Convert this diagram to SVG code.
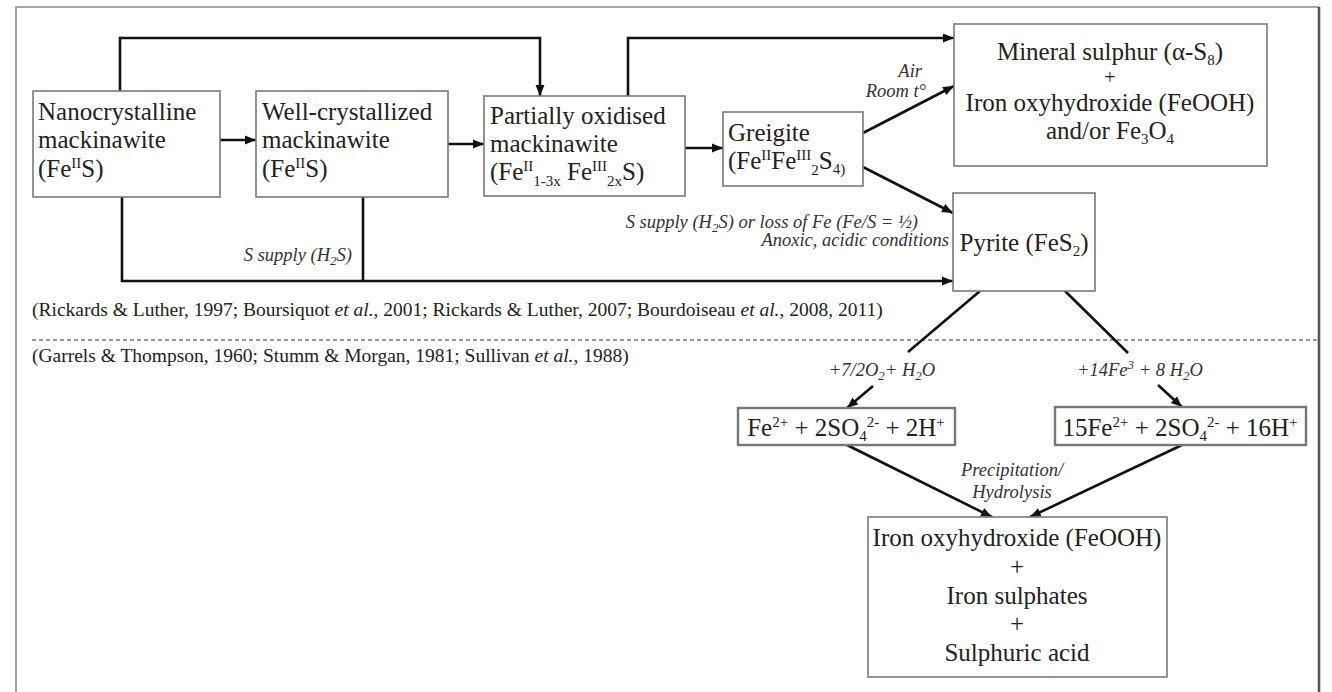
<svg xmlns="http://www.w3.org/2000/svg" width="1332" height="692" viewBox="0 0 1332 692">
  <style>
    .box { fill: #fff; stroke: #7a7a7a; stroke-width: 1.6; }
    .eq { fill: #fff; stroke: #777; stroke-width: 2.4; }
    .t { font-family: "Liberation Serif", "Times New Roman", serif; font-size: 25px; fill: #222; }
    .plus { font-size: 20px; }
    .lab { font-family: "Liberation Serif", "Times New Roman", serif; font-size: 18.5px; font-style: italic; fill: #333; }
    .ref { font-family: "Liberation Serif", "Times New Roman", serif; font-size: 19.5px; fill: #222; }
    .s { font-size: 15px; }
    .ls { font-size: 13px; }
    .it { font-style: italic; }
    .mid { text-anchor: middle; }
    .end { text-anchor: end; }
    .conn { stroke: #111; stroke-width: 2.6; fill: none; }
  </style>
  <defs>
    <marker id="arrow" markerUnits="userSpaceOnUse" markerWidth="12" markerHeight="10" refX="11" refY="5" orient="auto">
      <path d="M0,0.5 L11,5 L0,9.5 z" fill="#111"/>
    </marker>
  </defs>

  <rect width="1332" height="692" fill="#fff"/>

  <!-- outer frame and section divider -->
  <g id="frame">
    <path d="M16,692 V7 H1319" fill="none" stroke="#8a8a8a" stroke-width="1.6"/>
    <line x1="1319" y1="7" x2="1319" y2="692" stroke="#555" stroke-width="2.6"/>
    <line x1="32" y1="340" x2="1318" y2="340" stroke="#333" stroke-width="1.2" stroke-dasharray="4 3"/>
  </g>

  <!-- connectors -->
  <g id="connectors">
    <path class="conn" d="M120,91 V38 H540 V96" marker-end="url(#arrow)"/>
    <path class="conn" d="M628,96 V38 H954" marker-end="url(#arrow)"/>
    <line class="conn" x1="220" y1="140" x2="256" y2="140" marker-end="url(#arrow)"/>
    <line class="conn" x1="448" y1="144" x2="484" y2="144" marker-end="url(#arrow)"/>
    <line class="conn" x1="685" y1="148" x2="723" y2="148" marker-end="url(#arrow)"/>
    <line class="conn" x1="863" y1="133" x2="954" y2="86" marker-end="url(#arrow)"/>
    <line class="conn" x1="863" y1="167" x2="953" y2="213" marker-end="url(#arrow)"/>
    <path class="conn" d="M122,197 V281 H953" marker-end="url(#arrow)"/>
    <line class="conn" x1="363" y1="197" x2="363" y2="281"/>
    <line class="conn" x1="980" y1="291" x2="908" y2="352"/>
    <line class="conn" x1="1065" y1="291" x2="1128" y2="353"/>
    <line class="conn" x1="873" y1="386" x2="847" y2="408" marker-end="url(#arrow)"/>
    <line class="conn" x1="1158" y1="385" x2="1182" y2="407" marker-end="url(#arrow)"/>
    <line class="conn" x1="847" y1="445" x2="992" y2="517" marker-end="url(#arrow)"/>
    <line class="conn" x1="1182" y1="445" x2="1030" y2="517" marker-end="url(#arrow)"/>
  </g>

  <!-- connector labels -->
  <g id="labels">
    <text class="lab end" x="922" y="77">Air</text>
    <text class="lab end" x="926" y="97">Room t°</text>
    <text class="lab end" x="918" y="228">S supply (H<tspan class="ls" dy="4">2</tspan><tspan dy="-4">S) or loss of Fe (Fe/S = ½)</tspan></text>
    <text class="lab end" x="949" y="246">Anoxic, acidic conditions</text>
    <text class="lab end" x="352" y="261">S supply (H<tspan class="ls" dy="4">2</tspan><tspan dy="-4">S)</tspan></text>
    <text class="lab mid" x="882" y="376">+7/2O<tspan class="ls" dy="4">2</tspan><tspan dy="-4">+ H</tspan><tspan class="ls" dy="4">2</tspan><tspan dy="-4">O</tspan></text>
    <text class="lab mid" x="1140" y="376">+14Fe<tspan class="ls" dy="-7">3</tspan><tspan dy="7"> + 8 H</tspan><tspan class="ls" dy="4">2</tspan><tspan dy="-4">O</tspan></text>
    <text class="lab mid" x="1012" y="476">Precipitation/</text>
    <text class="lab mid" x="1012" y="498">Hydrolysis</text>
  </g>

  <!-- literature references -->
  <g id="references">
    <text class="ref" x="32" y="316">(Rickards &amp; Luther, 1997; Boursiquot <tspan class="it">et al.</tspan>, 2001; Rickards &amp; Luther, 2007; Bourdoiseau <tspan class="it">et al.</tspan>, 2008, 2011)</text>
    <text class="ref" x="32" y="362">(Garrels &amp; Thompson, 1960; Stumm &amp; Morgan, 1981; Sullivan <tspan class="it">et al.</tspan>, 1988)</text>
  </g>

  <g id="nano-mackinawite">
    <rect class="box" x="33" y="91" width="187" height="106"/>
    <text class="t" x="38" y="120">Nanocrystalline</text>
    <text class="t" x="38" y="148">mackinawite</text>
    <text class="t" x="38" y="177">(Fe<tspan class="s" dy="-9">II</tspan><tspan dy="9">S)</tspan></text>
  </g>

  <g id="crystal-mackinawite">
    <rect class="box" x="256" y="91" width="192" height="106"/>
    <text class="t" x="262" y="120">Well-crystallized</text>
    <text class="t" x="262" y="148">mackinawite</text>
    <text class="t" x="262" y="177">(Fe<tspan class="s" dy="-9">II</tspan><tspan dy="9">S)</tspan></text>
  </g>

  <g id="oxidised-mackinawite">
    <rect class="box" x="484" y="96" width="201" height="100"/>
    <text class="t" x="490" y="124">Partially oxidised</text>
    <text class="t" x="490" y="152">mackinawite</text>
    <text class="t" x="490" y="180">(Fe<tspan class="s" dy="-9">II</tspan><tspan class="s" dy="15">1-3x</tspan><tspan dy="-6"> Fe</tspan><tspan class="s" dy="-9">III</tspan><tspan class="s" dy="15">2x</tspan><tspan dy="-6">S)</tspan></text>
  </g>

  <g id="greigite">
    <rect class="box" x="723" y="112" width="140" height="74"/>
    <text class="t" x="728" y="141">Greigite</text>
    <text class="t" x="728" y="169">(Fe<tspan class="s" dy="-9">II</tspan><tspan dy="9">Fe</tspan><tspan class="s" dy="-9">III</tspan><tspan class="s" dy="15">2</tspan><tspan dy="-6">S</tspan><tspan class="s" dy="5">4)</tspan></text>
  </g>

  <g id="sulphur-oxyhydroxide">
    <rect class="box" x="954" y="24" width="313" height="142"/>
    <text class="t mid" x="1110" y="60">Mineral sulphur (α-S<tspan class="s" dy="5">8</tspan><tspan dy="-5">)</tspan></text>
    <text class="t plus mid" x="1110" y="84">+</text>
    <text class="t mid" x="1110" y="111">Iron oxyhydroxide (FeOOH)</text>
    <text class="t mid" x="1110" y="139">and/or Fe<tspan class="s" dy="5">3</tspan><tspan dy="-5">O</tspan><tspan class="s" dy="5">4</tspan></text>
  </g>

  <g id="pyrite">
    <rect class="box" x="953" y="193" width="142" height="98"/>
    <text class="t mid" x="1024" y="251">Pyrite (FeS<tspan class="s" dy="5">2</tspan><tspan dy="-5">)</tspan></text>
  </g>

  <g id="oxygen-products">
    <rect class="eq" x="738" y="408" width="217" height="37"/>
    <text class="t mid" x="846" y="436">Fe<tspan class="s" dy="-9">2+</tspan><tspan dy="9"> + 2SO</tspan><tspan class="s" dy="5">4</tspan><tspan class="s" dy="-14">2-</tspan><tspan dy="9"> + 2H</tspan><tspan class="s" dy="-9">+</tspan></text>
  </g>

  <g id="ferric-products">
    <rect class="eq" x="1055" y="407" width="251" height="38"/>
    <text class="t mid" x="1180" y="436">15Fe<tspan class="s" dy="-9">2+</tspan><tspan dy="9"> + 2SO</tspan><tspan class="s" dy="5">4</tspan><tspan class="s" dy="-14">2-</tspan><tspan dy="9"> + 16H</tspan><tspan class="s" dy="-9">+</tspan></text>
  </g>

  <g id="final-products">
    <rect class="box" x="868" y="517" width="299" height="160"/>
    <text class="t mid" x="1017" y="546">Iron oxyhydroxide (FeOOH)</text>
    <text class="t mid" x="1017" y="575">+</text>
    <text class="t mid" x="1017" y="604">Iron sulphates</text>
    <text class="t mid" x="1017" y="632">+</text>
    <text class="t mid" x="1017" y="661">Sulphuric acid</text>
  </g>
</svg>
